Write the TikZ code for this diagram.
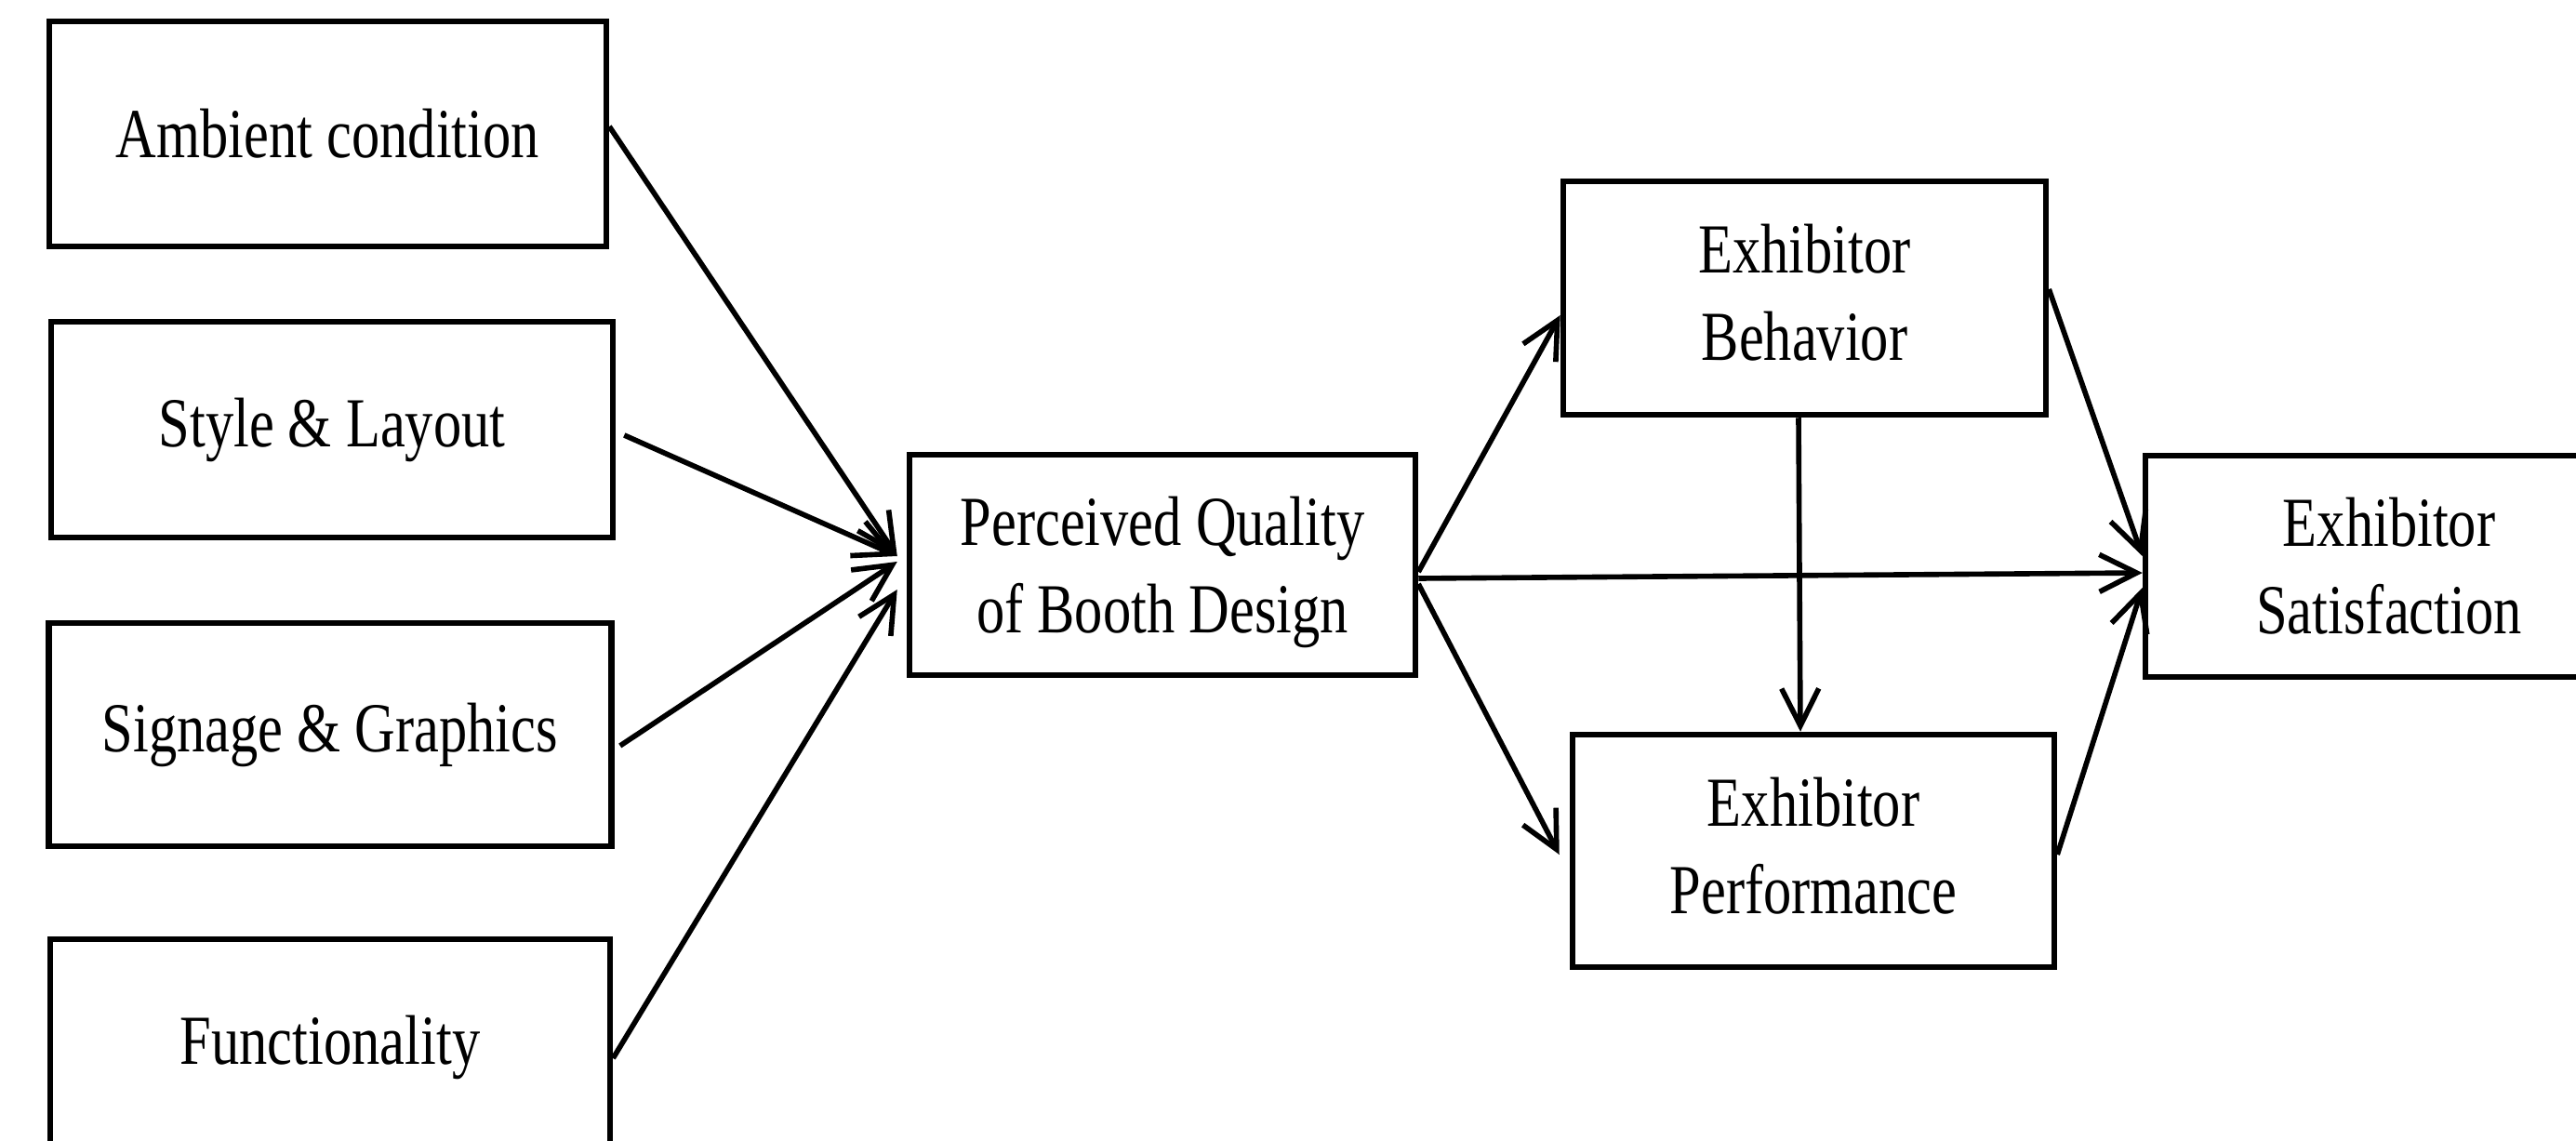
\documentclass[tikz,border=0pt]{standalone}
\usepackage{fontspec}
\setmainfont{Liberation Serif}[FakeStretch=0.8]
\usetikzlibrary{arrows.meta}

\begin{document}
\begin{tikzpicture}[
  box/.style={draw,line width=1.85pt,inner sep=0pt,align=center,
    font=\fontsize{21.5pt}{26.7pt}\selectfont},
  link/.style={-{Straight Barb[length=4mm,width=4mm]},line width=1.6pt},
]
\useasboundingbox (0,0) rectangle (27.7,-12.27);
\clip (0,0) rectangle (27.7,-12.27);

% antecedents
\node[box,minimum width=5.99cm,minimum height=2.42cm] (amb) at (3.525,-1.44) {Ambient condition};
\node[box,minimum width=6.04cm,minimum height=2.32cm] (sty) at (3.57,-4.62) {Style \& Layout};
\node[box,minimum width=6.05cm,minimum height=2.40cm] (sig) at (3.55,-7.90) {Signage \& Graphics};
\node[box,minimum width=6.02cm,minimum height=2.32cm] (fun) at (3.55,-11.26) {Functionality};

% mediator and outcomes
\node[box,minimum width=5.44cm,minimum height=2.37cm,text depth=0pt] (pqb) at (12.50,-6.075) {Perceived Quality\\ of Booth Design};
\node[box,minimum width=5.19cm,minimum height=2.51cm,text depth=0.12cm] (beh) at (19.405,-3.205) {Exhibitor\\ Behavior};
\node[box,minimum width=5.18cm,minimum height=2.50cm,text depth=0.12cm] (perf) at (19.50,-9.15) {Exhibitor\\ Performance};
\node[box,minimum width=5.24cm,minimum height=2.38cm] (sat) at (25.69,-6.09) {Exhibitor\\ Satisfaction};

% into perceived quality
\draw[link] ([yshift=0.08cm]amb.east) -- ([xshift=-0.1cm,yshift=0.095cm]pqb.west);
\draw[link] ([xshift=0.09cm,yshift=-0.06cm]sty.east) -- ([xshift=-0.1cm,yshift=0.095cm]pqb.west);
\draw[link] ([xshift=0.06cm,yshift=-0.12cm]sig.east) -- ([xshift=-0.1cm,yshift=0.035cm]pqb.west);
\draw[link] ([yshift=-0.12cm]fun.east) -- ([xshift=-0.1cm,yshift=-0.265cm]pqb.west);

% out of perceived quality
\draw[link] ([yshift=-0.075cm]pqb.east) -- ([yshift=-0.185cm]beh.west);
\draw[link] ([yshift=-0.145cm]pqb.east) -- ([yshift=-0.07cm]sat.west);
\draw[link] ([yshift=-0.205cm]pqb.east) -- ([xshift=-0.11cm,yshift=-0.04cm]perf.west);

% between outcomes
\draw[link] ([xshift=-0.065cm]beh.south) -- ([xshift=-0.14cm]perf.north);
\draw[link] ([yshift=0.095cm]beh.east) -- ([yshift=0.11cm]sat.west);
\draw[link] ([yshift=-0.04cm]perf.east) -- ([yshift=-0.23cm]sat.west);
\end{tikzpicture}
\end{document}
